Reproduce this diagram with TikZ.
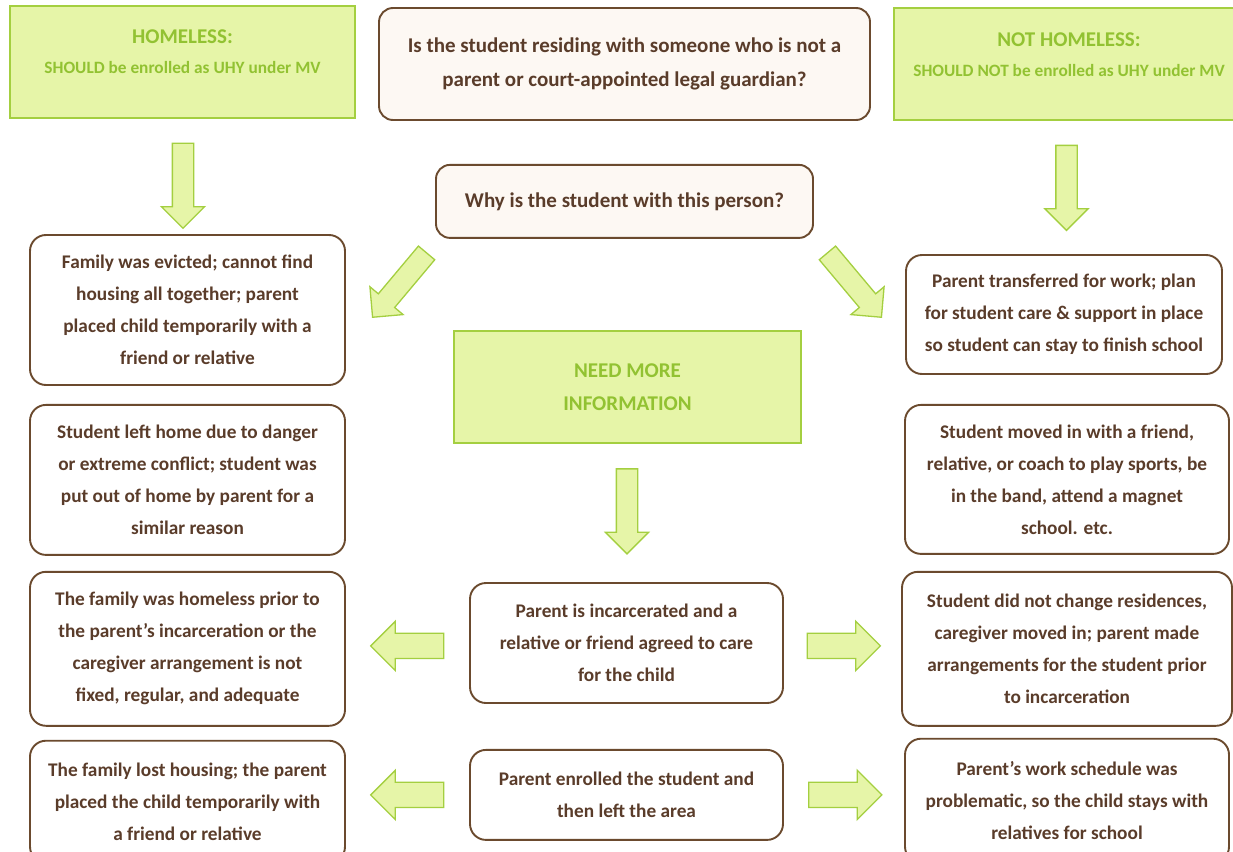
\documentclass[tikz,border=0pt]{standalone}
\usepackage{fontspec}
\setmainfont{Carlito}
\usetikzlibrary{shapes,arrows,positioning,calc}
\definecolor{lgreen}{HTML}{E6F5A8}
\definecolor{dgreen}{HTML}{A4CF40}
\definecolor{tgreen}{HTML}{92C232}
\definecolor{brn}{HTML}{6B4A2E}
\definecolor{tbrn}{HTML}{5A3C2A}
\definecolor{cream}{HTML}{FDF8F3}
\begin{document}
\begin{tikzpicture}[x=1pt,y=-1pt,
    txt/.style={font=\bfseries\fontsize{19.3}{32}\selectfont,text=tbrn,align=center},
    res/.style={draw=dgreen,fill=lgreen,line width=2pt,text=tgreen,align=center,inner sep=0,
      font=\bfseries\fontsize{21}{30}\selectfont},
    ask/.style={txt,draw=brn,fill=cream,line width=1.9pt,rounded corners=14pt,inner sep=0,
      font=\bfseries\fontsize{21}{34}\selectfont},
    case/.style={txt,draw=brn,line width=1.9pt,rounded corners=16pt,inner sep=0,minimum width=315pt},
    blk/.style={single arrow,draw=dgreen,fill=lgreen,line width=1.3pt,inner xsep=0,inner ysep=10pt,
      single arrow head extend=11pt,minimum width=0pt}]
  \path[use as bounding box,fill=white] (0,0) rectangle (1233,851);
  \node[res,minimum width=345pt,minimum height=112pt,text depth=20pt] (hl) at (182.5,62)
    {HOMELESS:\\\fontsize{17.3}{30}\selectfont SHOULD be enrolled as UHY under MV};
  \node[ask,minimum width=491pt,minimum height=112pt] (qs) at (624.5,64)
    {Is the student residing with someone who is not a\\parent or court-appointed legal guardian?};
  \node[res,minimum width=350pt,minimum height=112pt,text depth=18pt] (nh) at (1069,64)
    {NOT HOMELESS:\\\fontsize{17.3}{30}\selectfont SHOULD NOT be enrolled as UHY under MV};
  \node[ask,minimum width=377pt,minimum height=73pt,below=43pt of qs] (why)
    {Why is the student with this person?};
  \node[case,minimum height=150pt] (l1) at (187.5,310)
    {Family was evicted; cannot find\\housing all together; parent\\placed child temporarily with a\\friend or relative};
  \node[case,minimum height=150pt,below=18pt of l1] (l2)
    {Student left home due to danger\\or extreme conflict; student was\\put out of home by parent for a\\similar reason};
  \node[case,minimum height=154pt,below=15pt of l2] (l3)
    {The family was homeless prior to\\the parent’s incarceration or the\\caregiver arrangement is not\\fixed, regular, and adequate};
  \node[case,minimum height=122pt,below=13pt of l3] (l4)
    {The family lost housing; the parent\\placed the child temporarily with\\a friend or relative};
  \node[case,minimum width=316pt,minimum height=119pt] (r1) at (1064,314.5)
    {Parent transferred for work; plan\\for student care \& support in place\\so student can stay to finish school};
  \node[case,minimum width=324pt,minimum height=149pt,below=29pt of r1,xshift=3pt] (r2)
    {Student moved in with a friend,\\relative, or coach to play sports, be\\in the band, attend a magnet\\school. etc.};
  \node[case,minimum width=330pt,minimum height=154pt,below=16pt of r2] (r3)
    {Student did not change residences,\\caregiver moved in; parent made\\arrangements for the student prior\\to incarceration};
  \node[case,minimum width=324pt,minimum height=124pt,below=11pt of r3] (r4)
    {Parent’s work schedule was\\problematic, so the child stays with\\relatives for school};
  \node[res,minimum width=347pt,minimum height=112pt,font=\bfseries\fontsize{21}{33}\selectfont] (more) at (627.5,387)
    {NEED MORE\\INFORMATION};
  \node[case,minimum width=313pt,minimum height=120pt] (c1) at (626.5,643)
    {Parent is incarcerated and a\\relative or friend agreed to care\\for the child};
  \node[case,minimum width=313pt,minimum height=90pt,below=45pt of c1] (c2)
    {Parent enrolled the student and\\then left the area};
  \node[blk,rotate=-90,minimum height=85pt] (ahl) at (183,180.5) {};
  \node[blk,rotate=-90,minimum height=85pt] (anh) at ($(nh.south)!.5!(r1.north)+(0,-5)$) {};
  \node[blk,rotate=-130,minimum height=84pt] (awl) at (403,281) {};
  \node[blk,rotate=-50,minimum height=84pt] (awr) at (851,281) {};
  \node[blk,rotate=-90,minimum height=85pt] (amore) at ($(more.south)!.5!(c1.north)+(0,-7)$) {};
  \node[blk,rotate=180,minimum height=73pt,inner ysep=12pt,single arrow head extend=12pt] (ac1l) at ($(c1.west)!.5!(l3.east)+(6,0)$) {};
  \node[blk,minimum height=73pt,inner ysep=12pt,single arrow head extend=12pt] (ac1r) at ($(c1.east)!.5!(r3.west)+(-5,0)$) {};
  \node[blk,rotate=180,minimum height=73pt,inner ysep=12pt,single arrow head extend=12pt] (ac2l) at ($(c2.west)!.5!(l4.east|-c2.west)+(6,0)$) {};
  \node[blk,minimum height=73pt,inner ysep=12pt,single arrow head extend=12pt] (ac2r) at ($(c2.east)!.5!(r4.west|-c2.east)+(-5,0)$) {};
\end{tikzpicture}
\end{document}
